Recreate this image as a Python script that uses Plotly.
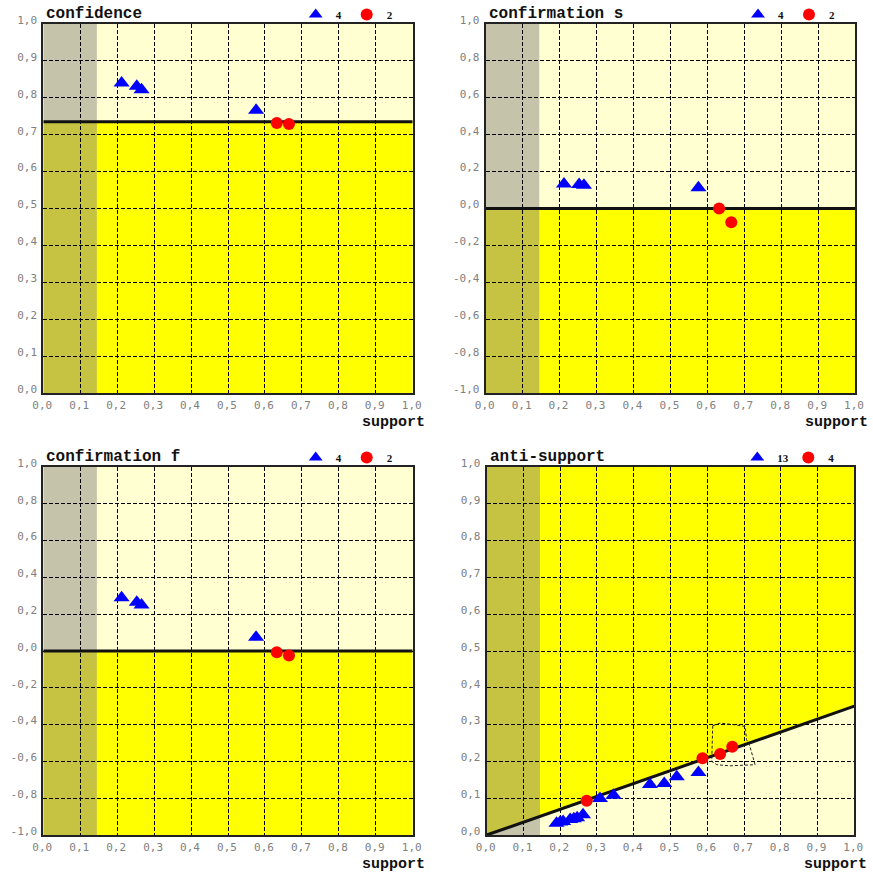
import plotly.graph_objects as go

# ---------------- data ----------------
x_tick_vals = [0.0, 0.1, 0.2, 0.3, 0.4, 0.5, 0.6, 0.7, 0.8, 0.9, 1.0]
x_tick_text = ["0,0", "0,1", "0,2", "0,3", "0,4", "0,5", "0,6", "0,7", "0,8", "0,9", "1,0"]
y01_tick_vals = [0.0, 0.1, 0.2, 0.3, 0.4, 0.5, 0.6, 0.7, 0.8, 0.9, 1.0]
y01_tick_text = ["0,0", "0,1", "0,2", "0,3", "0,4", "0,5", "0,6", "0,7", "0,8", "0,9", "1,0"]
ypm_tick_vals = [-1.0, -0.8, -0.6, -0.4, -0.2, 0.0, 0.2, 0.4, 0.6, 0.8, 1.0]
ypm_tick_text = ["-1,0", "-0,8", "-0,6", "-0,4", "-0,2", "0,0", "0,2", "0,4", "0,6", "0,8", "1,0"]

titles = ["confidence", "confirmation s", "confirmation f", "anti-support"]
min_support = 0.145

# confidence
conf_tri_x = [0.212, 0.253, 0.266, 0.576]
conf_tri_y = [0.840, 0.831, 0.822, 0.766]
conf_circ_x = [0.632, 0.665]
conf_circ_y = [0.732, 0.729]
conf_threshold = 0.735

# confirmation s
cs_tri_x = [0.212, 0.253, 0.266, 0.576]
cs_tri_y = [0.133, 0.130, 0.126, 0.113]
cs_circ_x = [0.632, 0.665]
cs_circ_y = [0.0, -0.075]
cs_threshold = 0.0

# confirmation f
cf_tri_x = [0.212, 0.253, 0.266, 0.576]
cf_tri_y = [0.290, 0.265, 0.250, 0.075]
cf_circ_x = [0.632, 0.665]
cf_circ_y = [-0.007, -0.025]
cf_threshold = 0.0

# anti-support
as_tri_x = [0.190, 0.200, 0.208, 0.227, 0.237, 0.246, 0.262, 0.308, 0.345, 0.444, 0.483, 0.517, 0.576]
as_tri_y = [0.032, 0.035, 0.037, 0.042, 0.044, 0.047, 0.055, 0.099, 0.108, 0.137, 0.140, 0.158, 0.170]
as_circ_x = [0.272, 0.587, 0.635, 0.668]
as_circ_y = [0.093, 0.2085, 0.220, 0.240]
as_slope = 0.35
blob_x = [0.615, 0.635, 0.671, 0.703, 0.707, 0.716, 0.725, 0.730, 0.662, 0.626, 0.612, 0.615]
blob_y = [0.297, 0.304, 0.300, 0.295, 0.259, 0.241, 0.209, 0.191, 0.188, 0.191, 0.200, 0.297]

# ---------------- style ----------------
W, H = 873, 877
LIGHT = "#FFFFD2"
YELLOW = "#FFFF00"
GRAYOV = "rgba(140,135,130,0.5)"
BLUE = "#0000FF"
RED = "#FF0000"
TICKFONT = dict(family="DejaVu Sans Mono", size=11, color="#808080")
TITLEFONT = dict(family="Liberation Mono", size=16, color="#111111", weight="bold")

# plot boxes in pixels (left, right, top, bottom)
boxes = [
    (43.3, 412.7, 24.0, 393.0),
    (485.7, 855.0, 24.0, 393.0),
    (43.3, 412.7, 467.0, 835.0),
    (486.7, 854.3, 467.0, 835.0),
]

fig = go.Figure()
layout = dict(width=W, height=H, margin=dict(l=0, r=0, t=0, b=0, autoexpand=False),
              paper_bgcolor="white", plot_bgcolor=LIGHT, showlegend=True)
shapes = []
annotations = []

panels = [
    (conf_tri_x, conf_tri_y, conf_circ_x, conf_circ_y, (0.0, 1.0), y01_tick_vals, y01_tick_text, conf_threshold),
    (cs_tri_x, cs_tri_y, cs_circ_x, cs_circ_y, (-1.0, 1.0), ypm_tick_vals, ypm_tick_text, cs_threshold),
    (cf_tri_x, cf_tri_y, cf_circ_x, cf_circ_y, (-1.0, 1.0), ypm_tick_vals, ypm_tick_text, cf_threshold),
    (as_tri_x, as_tri_y, as_circ_x, as_circ_y, (0.0, 1.0), y01_tick_vals, y01_tick_text, None),
]

for i, (tx, ty, cx, cy, yr, ytv, ytt, thr) in enumerate(panels):
    n = i + 1
    sfx = "" if n == 1 else str(n)
    xa, ya = "x" + sfx, "y" + sfx
    lg = "legend" + sfx
    l, r, t, b = boxes[i]
    layout["xaxis" + sfx] = dict(
        domain=[l / W, r / W], anchor=ya, range=[0, 1], automargin=False,
        tickmode="array", tickvals=x_tick_vals, ticktext=x_tick_text,
        tickfont=TICKFONT, ticks="", ticklabelshift=-1, ticklabelstandoff=1,
        showgrid=True, gridcolor="#000000", gridwidth=1.2, griddash="4px,2px",
        zeroline=False, showline=True, mirror=True, linecolor="#222222", linewidth=2,
    )
    layout["yaxis" + sfx] = dict(
        domain=[1 - b / H, 1 - t / H], anchor=xa, range=list(yr), automargin=False,
        tickmode="array", tickvals=ytv, ticktext=ytt,
        tickfont=TICKFONT, ticks="", ticklabelshift=-4, ticklabelstandoff=2,
        showgrid=True, gridcolor="#000000", gridwidth=1.2, griddash="4px,2px",
        zeroline=False, showline=True, mirror=True, linecolor="#222222", linewidth=2,
    )
    # backgrounds
    shapes.append(dict(type="rect", xref=xa, yref=ya, x0=0, x1=1, y0=yr[0], y1=yr[1],
                       fillcolor=LIGHT, line=dict(width=0), layer="below"))
    if thr is not None:
        shapes.append(dict(type="rect", xref=xa, yref=ya, x0=0, x1=1, y0=yr[0], y1=thr,
                           fillcolor=YELLOW, line=dict(width=0), layer="below"))
        shapes.append(dict(type="line", xref=xa, yref=ya, x0=0, x1=1, y0=thr, y1=thr,
                           line=dict(color="#111111", width=3), layer="between"))
    else:
        path = f"M 0,0 L 1,{as_slope} L 1,{yr[1]} L 0,{yr[1]} Z"
        shapes.append(dict(type="path", xref=xa, yref=ya, path=path,
                           fillcolor=YELLOW, line=dict(width=0), layer="below"))
        shapes.append(dict(type="line", xref=xa, yref=ya, x0=0, x1=1, y0=0, y1=as_slope,
                           line=dict(color="#111111", width=3), layer="between"))
    shapes.append(dict(type="rect", xref=xa, yref=ya, x0=0, x1=min_support, y0=yr[0], y1=yr[1],
                       fillcolor=GRAYOV, line=dict(width=0), layer="below"))

    if thr is None:
        fig.add_trace(go.Scatter(x=blob_x, y=blob_y, xaxis=xa, yaxis=ya, mode="lines",
                                 line=dict(color="#222222", width=1, dash="3px,2px"),
                                 showlegend=False, hoverinfo="skip"))

    fig.add_trace(go.Scatter(x=tx, y=ty, xaxis=xa, yaxis=ya, mode="markers",
                             marker=dict(symbol="triangle-up", size=14, color=BLUE),
                             name=str(len(tx)), legend=lg))
    fig.add_trace(go.Scatter(x=cx, y=cy, xaxis=xa, yaxis=ya, mode="markers",
                             marker=dict(symbol="circle", size=12, color=RED),
                             name=str(len(cx)), legend=lg))

    layout[lg] = dict(orientation="h", x=(r - 117) / W, xanchor="left",
                      y=1 - (t - 24) / H, yanchor="top", bgcolor="rgba(0,0,0,0)",
                      font=dict(family="Liberation Serif", size=11, color="#111111", weight="bold"),
                      itemsizing="constant", entrywidth=6, borderwidth=0)

    annotations.append(dict(text=titles[i], xref="paper", yref="paper",
                            x=(l + 1) / W, y=1 - (t - 10) / H, xanchor="left", yanchor="middle",
                            showarrow=False, font=TITLEFONT))
    annotations.append(dict(text="support", xref="paper", yref="paper",
                            x=(r + 14.5) / W, y=1 - (b + 29) / H, xanchor="right", yanchor="middle",
                            showarrow=False, font=dict(family="Liberation Mono", size=15,
                                                       color="#111111", weight="bold")))

layout["shapes"] = shapes
layout["annotations"] = annotations
fig.update_layout(**layout)
fig.write_html("out.html", config={"displayModeBar": False},
               post_script="document.body.style.margin='0px';document.body.style.padding='0px';")
